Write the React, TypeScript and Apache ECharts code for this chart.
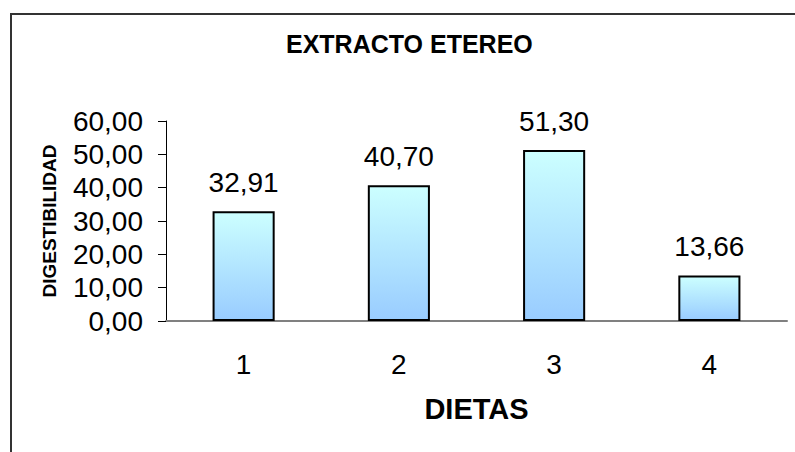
import React, { useEffect, useRef } from "react";
import * as echarts from "echarts";

const categories = ["1", "2", "3", "4"];
const values = [32.91, 40.7, 51.3, 13.66];
const yTicks = { min: 0, max: 60, interval: 10 };
const titleText = "EXTRACTO ETEREO";
const xName = "DIETAS";
const yName = "DIGESTIBILIDAD";

const fmt = (v: number) => v.toFixed(2).replace(".", ",");
const FONT = 'Arial, "Liberation Sans", sans-serif';

export default function App() {
  const ref = useRef<HTMLDivElement>(null);
  useEffect(() => {
    if (!ref.current) return;
    const chart = echarts.init(ref.current, null, { renderer: "svg" });
    chart.setOption({
      animation: false,
      backgroundColor: "#ffffff",
      textStyle: { fontFamily: FONT },
      title: {
        text: titleText,
        left: 286,
        top: 31,
        padding: 0,
        textStyle: { fontFamily: FONT, fontWeight: "bold", fontSize: 25, color: "#000" },
      },
      graphic: [
        {
          type: "rect",
          shape: { x: 11, y: 14, width: 900, height: 600 },
          style: { fill: "none", stroke: "#333333", lineWidth: 2 },
          silent: true,
        },
      ],
      grid: { left: 166, top: 121, right: 8, bottom: 131 },
      xAxis: {
        type: "category",
        data: categories,
        name: xName,
        nameLocation: "middle",
        nameGap: 73,
        nameTextStyle: { fontFamily: FONT, fontWeight: "bold", fontSize: 29, color: "#000" },
        axisLine: { lineStyle: { color: "#808080", width: 2 } },
        axisTick: { length: 9, lineStyle: { color: "#808080", width: 2 } },
        axisLabel: { fontFamily: FONT, fontSize: 28, color: "#000", margin: 29 },
      },
      yAxis: {
        type: "value",
        min: yTicks.min,
        max: yTicks.max,
        interval: yTicks.interval,
        name: yName,
        nameLocation: "middle",
        nameRotate: 90,
        nameGap: 107,
        nameTextStyle: { fontFamily: FONT, fontWeight: "bold", fontSize: 19, color: "#000" },
        axisLine: { show: true, lineStyle: { color: "#000", width: 1 } },
        axisTick: { show: true, length: 8, lineStyle: { color: "#000", width: 1 } },
        splitLine: { show: false },
        axisLabel: {
          fontFamily: FONT,
          fontSize: 28,
          color: "#000",
          margin: 23,
          formatter: (v: number) => fmt(v),
        },
      },
      series: [
        {
          type: "bar",
          data: values,
          barWidth: "40%",
          itemStyle: {
            color: new echarts.graphic.LinearGradient(0, 0, 0, 1, [
              { offset: 0, color: "#CCFFFF" },
              { offset: 1, color: "#99CCFF" },
            ]),
            borderColor: "#000",
            borderWidth: 2,
          },
          label: {
            show: true,
            position: "top",
            distance: 15,
            fontFamily: FONT,
            fontSize: 28,
            color: "#000",
            formatter: (p: any) => fmt(p.value),
          },
        },
      ],
    });
    return () => chart.dispose();
  }, []);
  return (
    <div
      ref={ref}
      style={{ position: "fixed", left: 0, top: 0, width: 795, height: 452 }}
    />
  );
}
